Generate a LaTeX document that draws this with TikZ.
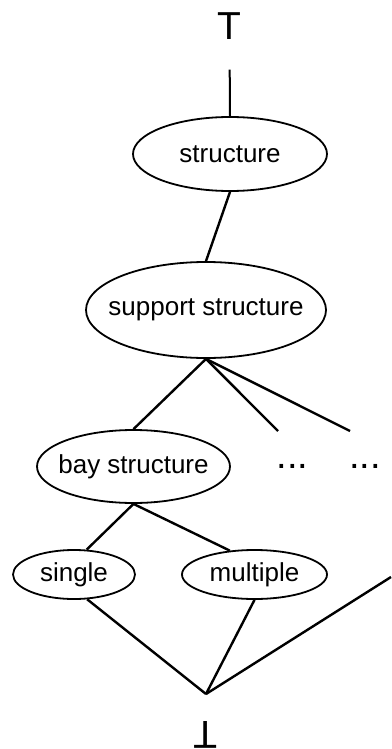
\documentclass[tikz,border=0pt]{standalone}
\usepackage{fontspec}
\setmainfont{Liberation Sans}
\usetikzlibrary{shapes.geometric}
\newcommand{\cname}[1]{\makebox[0pt]{#1}}

\begin{document}
\begin{tikzpicture}[x=1pt,y=-1pt,
  concept/.style={draw,ellipse,line width=1.8pt,inner sep=0pt,font=\fontsize{26}{30}\selectfont},
  edge/.style={line width=2.4pt}]
\useasboundingbox (0,0) rectangle (391,749);
\node[inner sep=0pt,font=\fontsize{39}{40}\selectfont] (top) at (229.5,26) {T};
\node[concept,minimum width=194pt,minimum height=74pt] (structure) at (230,154) {\cname{structure}};
\node[concept,minimum width=240pt,minimum height=96pt] (support) at (206,310) {\cname{support structure}};
\node[concept,minimum width=193pt,minimum height=73pt] (bay) at (133.5,466.5) {\cname{bay structure}};
\node[concept,minimum width=122pt,minimum height=49pt] (single) at (74,574.5) {\cname{single}};
\node[concept,minimum width=145pt,minimum height=49pt] (multiple) at (254.5,574.5) {\cname{multiple}};
\node[anchor=base,inner sep=0pt,font=\fontsize{38}{40}\selectfont] (dotsa) at (292.5,468) {...};
\node[anchor=base,inner sep=0pt,font=\fontsize{38}{40}\selectfont] (dotsb) at (365,468) {...};
\node[inner sep=0pt,font=\fontsize{39}{40}\selectfont,rotate=180] (bot) at (205.5,735) {T};
\coordinate (ea) at (278,431);
\coordinate (eb) at (350,431);
\coordinate (meet) at (206,694);
\coordinate (far) at (391,577);
\draw[line width=2pt,shorten >=30pt] (structure.north)--(top.south);
\draw[edge] (structure.south)--(support.north);
\foreach \t in {bay.north,ea,eb}{\draw[edge] (support.south)--(\t);}
\draw[edge] (bay.south)--(single.63);
\draw[edge] (bay.south)--(multiple.136);
\draw[edge] (single.298)--(meet);
\draw[edge] (multiple.south)--(meet);
\draw[edge] (far)--(meet);
\end{tikzpicture}
\end{document}
